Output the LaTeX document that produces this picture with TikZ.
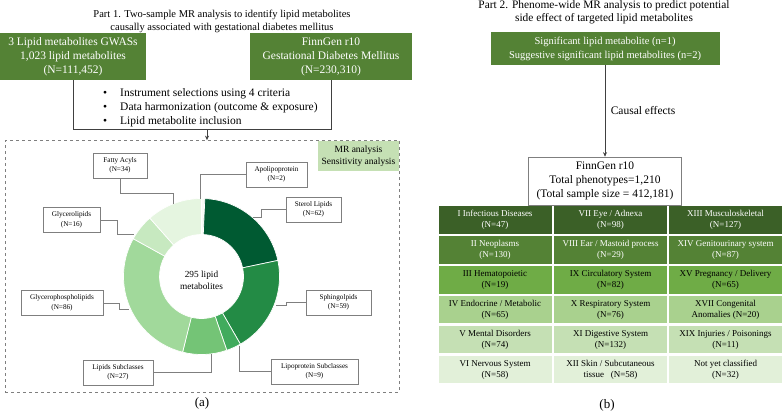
\documentclass[tikz,border=0pt]{standalone}
\usepackage{fontspec}
\setmainfont{Liberation Serif}
\usetikzlibrary{arrows.meta}
\definecolor{boxgreen}{HTML}{548235}
\definecolor{sensgreen}{HTML}{C5E0B4}
\definecolor{linegray}{HTML}{7F7F7F}
\definecolor{flowgray}{HTML}{404040}
\definecolor{apogreen}{HTML}{F7FCF5}
\definecolor{sterolgreen}{HTML}{005A32}
\definecolor{sphingogreen}{HTML}{238B45}
\definecolor{lipoprotgreen}{HTML}{41AB5D}
\definecolor{lipsubgreen}{HTML}{74C476}
\definecolor{gphosgreen}{HTML}{A1D99B}
\definecolor{glycgreen}{HTML}{C7E9C0}
\definecolor{fattygreen}{HTML}{E5F5E0}
\definecolor{rowA}{HTML}{3B6027}
\definecolor{rowB}{HTML}{548235}
\definecolor{rowC}{HTML}{6FAC46}
\definecolor{rowD}{HTML}{A9D18E}
\definecolor{rowE}{HTML}{C5E0B4}
\definecolor{rowF}{HTML}{E2F0D9}
\tikzset{
  titletext/.style={align=center,font=\fontsize{10.5}{13.5}\selectfont},
  greenbox/.style={fill=boxgreen,text=white,align=center,inner sep=0pt,font=\fontsize{11.5}{14}\selectfont},
  labelbox/.style={draw=linegray,fill=white,align=center,inner sep=0pt,line width=0.6pt,minimum height=25pt,font=\fontsize{7.2}{9.5}\selectfont},
  leader/.style={draw=linegray,line width=0.6pt},
  flow/.style={draw=flowgray,line width=0.9pt},
  flowarrow/.style={flow,-{Stealth[length=4.5pt,width=4pt]}},
  slice/.style={draw=white,line width=0.7pt},
  cell/.style={minimum width=113pt,minimum height=27.5pt,align=center,inner sep=0pt,font=\fontsize{9}{11}\selectfont},
  darkcell/.style={cell,text=white},
  lightcell/.style={cell,text=black}
}
\begin{document}
\begin{tikzpicture}[x=1pt,y=-1pt]
  \useasboundingbox (0,0) rectangle (783,412);
  % part 1
  \node[titletext] (title1) at (222,21.5) {Part 1. Two-sample MR analysis to identify lipid metabolites\\causally associated with gestational diabetes mellitus};
  \node[greenbox,minimum width=146pt,minimum height=47pt] (gwas) at (73,56.5) {3 Lipid metabolites GWASs\\1,023 lipid metabolites\\(N=111,452)};
  \node[greenbox,minimum width=162pt,minimum height=47pt] (gdm) at (331,56.5) {FinnGen r10\\Gestational Diabetes Mellitus\\(N=230,310)};
  \node[anchor=west,align=left,inner sep=0pt,font=\fontsize{11.5}{14}\selectfont] (steps) at (103,108) {\textbullet\hspace{13pt}Instrument selections using 4 criteria\\\textbullet\hspace{13pt}Data harmonization (outcome \& exposure)\\\textbullet\hspace{13pt}Lipid metabolite inclusion};
  \coordinate (join) at (207,129);
  \draw[flow] (gwas.south) -- (gwas.south |- join) -- (gdm.south |- join) -- (gdm.south);
  \node[draw=linegray,dashed,line width=0.7pt,minimum width=394pt,minimum height=251.5pt,inner sep=0pt] (mrframe) at (202,266.25) {};
  \draw[flowarrow] (join) -- (join |- mrframe.north);
  \node[fill=sensgreen,minimum width=81pt,minimum height=30pt,inner sep=0pt,align=center,font=\fontsize{9.5}{12}\selectfont] (sens) at (358.5,156) {MR analysis\\Sensitivity analysis};
  % donut
  \coordinate (donut) at (201.5,276.5);
  \fill[apogreen,slice] (donut) ++(90:78pt) arc[start angle=90,end angle=87.56,radius=78pt] -- ++(87.56:-36pt) arc[start angle=87.56,end angle=90,radius=42pt] -- cycle;
  \fill[sterolgreen,slice] (donut) ++(87.56:78pt) arc[start angle=87.56,end angle=11.90,radius=78pt] -- ++(11.90:-36pt) arc[start angle=11.90,end angle=87.56,radius=42pt] -- cycle;
  \fill[sphingogreen,slice] (donut) ++(11.90:78pt) arc[start angle=11.90,end angle=-60.10,radius=78pt] -- ++(-60.10:-36pt) arc[start angle=-60.10,end angle=11.90,radius=42pt] -- cycle;
  \fill[lipoprotgreen,slice] (donut) ++(-60.10:78pt) arc[start angle=-60.10,end angle=-71.09,radius=78pt] -- ++(-71.09:-36pt) arc[start angle=-71.09,end angle=-60.10,radius=42pt] -- cycle;
  \fill[lipsubgreen,slice] (donut) ++(-71.09:78pt) arc[start angle=-71.09,end angle=-104.03,radius=78pt] -- ++(-104.03:-36pt) arc[start angle=-104.03,end angle=-71.09,radius=42pt] -- cycle;
  \fill[gphosgreen,slice] (donut) ++(-104.03:78pt) arc[start angle=-104.03,end angle=-208.98,radius=78pt] -- ++(-208.98:-36pt) arc[start angle=-208.98,end angle=-104.03,radius=42pt] -- cycle;
  \fill[glycgreen,slice] (donut) ++(-208.98:78pt) arc[start angle=-208.98,end angle=-228.51,radius=78pt] -- ++(-228.51:-36pt) arc[start angle=-228.51,end angle=-208.98,radius=42pt] -- cycle;
  \fill[fattygreen,slice] (donut) ++(-228.51:78pt) arc[start angle=-228.51,end angle=-270,radius=78pt] -- ++(-270:-36pt) arc[start angle=-270,end angle=-228.51,radius=42pt] -- cycle;
  \node[align=center,font=\fontsize{9.3}{11.5}\selectfont] (total) at (201.5,280.5) {295 lipid\\metabolites};
  % labels round the donut
  \node[labelbox,minimum width=54pt] (fatty) at (120,165.5) {Fatty Acyls\\(N=34)};
  \node[labelbox,minimum width=61pt] (apo) at (276.5,174.5) {Apolipoprotein\\(N=2)};
  \node[labelbox,minimum width=55pt] (sterol) at (313.5,209.5) {Sterol Lipids\\(N=62)};
  \node[labelbox,minimum width=57pt] (glyc) at (71.5,220) {Glycerolipids\\(N=16)};
  \node[labelbox,minimum width=82pt] (gphos) at (62,303) {Glycerophospholipids\\(N=86)};
  \node[labelbox,minimum width=65pt] (sphingo) at (338.5,302.5) {Sphingolpids\\(N=59)};
  \node[labelbox,minimum width=70pt] (lipsub) at (118,372.5) {Lipids Subclasses\\(N=27)};
  \node[labelbox,minimum width=87pt] (lipoprot) at (314.5,371.5) {Lipoprotein Subclasses\\(N=9)};
  \coordinate (fattyend) at (173,204);
  \coordinate (apoend) at (200.5,199);
  \coordinate (sterolend) at (253,217);
  \coordinate (glycend) at (134,234);
  \coordinate (gphosend) at (129,309);
  \coordinate (sphingoend) at (276,305);
  \coordinate (lipsubend) at (211,354);
  \coordinate (lipoprotend) at (239,346);
  \draw[leader] (fatty.south) -- ++(0,15) -| (fattyend);
  \draw[leader] (apo.west) -| (apoend);
  \draw[leader] (sterol.west) -- ++(-24,0) |- (sterolend);
  \draw[leader] (glyc.east) -- ++(17,0) |- (glycend);
  \draw[leader] (gphos.east) -- ++(16,0) |- (gphosend);
  \draw[leader] (sphingo.west) -- ++(-19,0) |- (sphingoend);
  \draw[leader] (lipsub.east) -| (lipsubend);
  \draw[leader] (lipoprot.west) -| (lipoprotend);
  \node[font=\fontsize{13}{15}\selectfont] (capa) at (202,403) {(a)};
  % part 2
  \node[titletext,font=\fontsize{11.4}{13.5}\selectfont] (title2) at (604,12.5) {Part 2. Phenome-wide MR analysis to predict potential\\side effect of targeted lipid metabolites};
  \node[greenbox,font=\fontsize{10.5}{14}\selectfont,minimum width=229pt,minimum height=33pt] (sig) at (605,48.5) {Significant lipid metabolite (n=1)\\Suggestive significant lipid metabolites (n=2)};
  \node[draw=linegray,line width=0.6pt,minimum width=153pt,minimum height=48pt,inner sep=0pt,align=center,font=\fontsize{11.5}{14}\selectfont] (finngen) at (605,181) {FinnGen r10\\Total phenotypes=1,210\\(Total sample size = 412,181)};
  \draw[flowarrow] (sig.south) -- (finngen.north) node[midway,right,xshift=2pt,font=\fontsize{11.5}{13}\selectfont] (causal) {Causal effects};
  % phenotype categories
  \node[darkcell,fill=rowA] (c11) at (495,220) {I Infectious Diseases\\(N=47)};
  \node[darkcell,fill=rowA] (c12) at (610.5,220) {VII Eye / Adnexa\\(N=98)};
  \node[darkcell,fill=rowA] (c13) at (725.5,220) {XIII Musculoskeletal\\(N=127)};
  \node[darkcell,fill=rowB] (c21) at (495,249.9) {II Neoplasms\\(N=130)};
  \node[darkcell,fill=rowB] (c22) at (610.5,249.9) {VIII Ear / Mastoid process\\(N=29)};
  \node[darkcell,fill=rowB] (c23) at (725.5,249.9) {XIV Genitourinary system\\(N=87)};
  \node[lightcell,fill=rowC] (c31) at (495,279.8) {III Hematopoietic\\(N=19)};
  \node[lightcell,fill=rowC] (c32) at (610.5,279.8) {IX Circulatory System\\(N=82)};
  \node[lightcell,fill=rowC] (c33) at (725.5,279.8) {XV Pregnancy / Delivery\\(N=65)};
  \node[lightcell,fill=rowD] (c41) at (495,309.7) {IV Endocrine / Metabolic\\(N=65)};
  \node[lightcell,fill=rowD] (c42) at (610.5,309.7) {X Respiratory System\\(N=76)};
  \node[lightcell,fill=rowD] (c43) at (725.5,309.7) {XVII Congenital\\Anomalies (N=20)};
  \node[lightcell,fill=rowE] (c51) at (495,339.6) {V Mental Disorders\\(N=74)};
  \node[lightcell,fill=rowE] (c52) at (610.5,339.6) {XI Digestive System\\(N=132)};
  \node[lightcell,fill=rowE] (c53) at (725.5,339.6) {XIX Injuries / Poisonings\\(N=11)};
  \node[lightcell,fill=rowF] (c61) at (495,369.5) {VI Nervous System\\(N=58)};
  \node[lightcell,fill=rowF] (c62) at (610.5,369.5) {XII Skin / Subcutaneous\\tissue\ \ \ (N=58)};
  \node[lightcell,fill=rowF] (c63) at (725.5,369.5) {Not yet classified\\(N=32)};
  \node[font=\fontsize{13}{15}\selectfont] (capb) at (607,405) {(b)};
\end{tikzpicture}
\end{document}
